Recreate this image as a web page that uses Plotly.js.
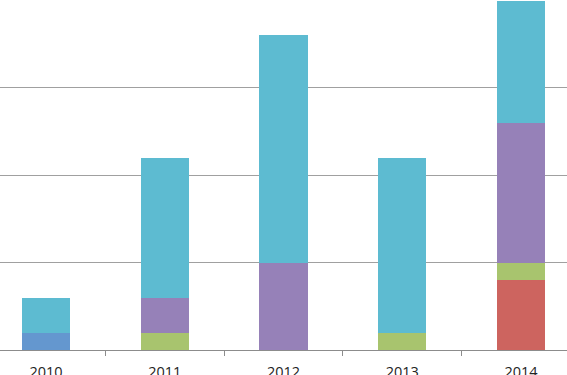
<!DOCTYPE html>
<html><head><meta charset="utf-8">
<script src="https://cdn.plot.ly/plotly-3.0.1.min.js"></script>
<style>html,body{margin:0;padding:0;background:#fff}</style>
</head><body>
<div id="chart" style="width:567px;height:375px"></div>
<script>
const categories = ['2010','2011','2012','2013','2014'];
const seriesBlue   = [1,0,0,0,0];
const seriesRed    = [0,0,0,0,4];
const seriesGreen  = [0,1,0,1,1];
const seriesPurple = [0,2,5,0,8];
const seriesCyan   = [2,8,13,10,7];

const colors = ['#6497CF','#CD645F','#A8C46E','#9681B8','#5DBBD1'];
const all = [seriesBlue, seriesRed, seriesGreen, seriesPurple, seriesCyan];
const names = ['Series 1','Series 2','Series 3','Series 4','Series 5'];
const traces = all.map((s,k)=>({
  type:'bar', x: categories, y: s, name: names[k],
  marker:{color: colors[k], line:{width:0}},
  width: 0.405, hoverinfo:'skip'
}));
Plotly.newPlot('chart', traces, {
  width:567, height:375,
  margin:{l:0,r:0,t:0,b:25,pad:0},
  barmode:'stack',
  showlegend:false,
  paper_bgcolor:'#fff', plot_bgcolor:'#fff',
  xaxis:{
    type:'category',
    range:[-0.387, 4.387],
    showgrid:false, zeroline:false, showline:true, linecolor:'#8c8c8c', linewidth:1,
    ticks:'outside', tickson:'boundaries', ticklen:5, tickcolor:'#8c8c8c',
    ticklabelstandoff:9,
    tickfont:{family:'Open Sans, Liberation Sans, sans-serif', size:14.5, color:'#222'}
  },
  yaxis:{
    range:[0,20.03], dtick:5, showticklabels:false, showgrid:true, gridcolor:'#a0a0a0', gridwidth:1,
    zeroline:false, showline:false, ticks:''
  }
}, {staticPlot:true});
</script>
</body></html>
